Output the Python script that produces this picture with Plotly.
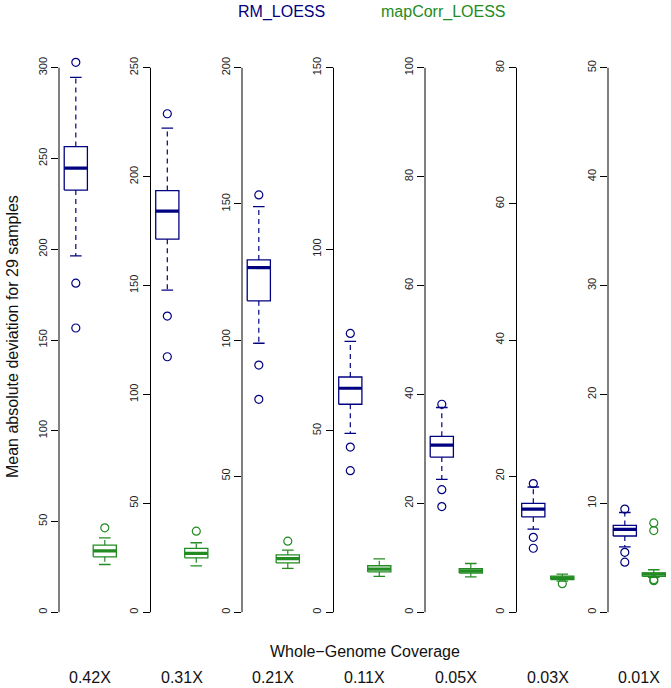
import plotly.graph_objects as go

# coverage levels, one panel each
coverage = ["0.42X", "0.31X", "0.21X", "0.11X", "0.05X", "0.03X", "0.01X"]
y_max = [300, 250, 200, 150, 100, 80, 50]
y_step = [50, 50, 50, 50, 20, 20, 10]

# RM_LOESS box stats (lower whisker, q1, median, q3, upper whisker) + outliers
rm_low = [196.3, 147.9, 98.8, 49.3, 24.4, 12.2, 6.0]
rm_q1 = [232.6, 171.3, 114.4, 57.3, 28.5, 14.0, 7.0]
rm_med = [244.7, 184.2, 126.6, 61.7, 30.7, 15.15, 7.6]
rm_q3 = [256.6, 193.6, 129.4, 64.8, 32.3, 16.0, 7.97]
rm_high = [294.7, 222.3, 149.0, 74.6, 37.6, 18.4, 9.16]
rm_out = [
    [303.0, 181.3, 156.6],
    [228.9, 136.0, 117.3],
    [153.3, 90.8, 78.2],
    [76.8, 45.5, 39.0],
    [38.2, 22.5, 19.4],
    [18.9, 11.0, 9.4],
    [9.47, 5.5, 4.6],
]

# mapCorr_LOESS box stats
mc_low = [26.3, 21.3, 16.1, 9.9, 6.5, 4.56, 3.2]
mc_q1 = [30.5, 25.0, 18.1, 11.1, 7.2, 4.8, 3.3]
mc_med = [33.8, 27.0, 19.7, 11.9, 7.6, 5.05, 3.5]
mc_q3 = [37.0, 29.3, 21.1, 12.8, 8.0, 5.3, 3.6]
mc_high = [41.0, 31.9, 22.8, 14.7, 8.95, 5.6, 3.9]
mc_out = [[46.5], [37.2], [26.1], [], [], [4.2], [8.2, 7.5, 3.0, 2.9]]

RM_COL = "#000080"
MC_COL = "#228B22"
FONT = "Liberation Sans"

W, H = 671, 688
fig = go.Figure()


def add_box(fig, pos, low, q1, med, q3, high, out, color, xa, ya):
    hw, cw = 0.4, 0.2
    fig.add_trace(go.Scatter(
        x=[pos - hw, pos + hw, pos + hw, pos - hw, pos - hw],
        y=[q1, q1, q3, q3, q1], mode="lines",
        line=dict(color=color, width=1.3), xaxis=xa, yaxis=ya, hoverinfo="skip"))
    fig.add_trace(go.Scatter(
        x=[pos - hw, pos + hw], y=[med, med], mode="lines",
        line=dict(color=color, width=3.2), xaxis=xa, yaxis=ya, hoverinfo="skip"))
    fig.add_trace(go.Scatter(
        x=[pos, pos, None, pos, pos], y=[q3, high, None, q1, low], mode="lines",
        line=dict(color=color, width=1.2, dash="5px,4px"), xaxis=xa, yaxis=ya,
        hoverinfo="skip"))
    fig.add_trace(go.Scatter(
        x=[pos - cw, pos + cw, None, pos - cw, pos + cw],
        y=[high, high, None, low, low], mode="lines",
        line=dict(color=color, width=1.3), xaxis=xa, yaxis=ya, hoverinfo="skip"))
    if out:
        fig.add_trace(go.Scatter(
            x=[pos] * len(out), y=out, mode="markers",
            marker=dict(symbol="circle-open", size=8, color=color,
                        line=dict(width=1.2, color=color)),
            xaxis=xa, yaxis=ya, hoverinfo="skip"))


def txt(text, x, y, size=16, color="#111", angle=0):
    return dict(text=text, xref="paper", yref="paper", x=x / W, y=1 - y / H,
                xanchor="center", yanchor="middle", textangle=angle,
                showarrow=False, font=dict(family=FONT, size=size, color=color))


y_dom = [(H - 634) / H, 1 - 46 / H]
panel_w = 62.6
annotations = []
shapes = []
for i in range(7):
    n = "" if i == 0 else str(i + 1)
    xa, ya = "x" + n, "y" + n
    left = 59 + i * 91.5
    dom = [left / W, min((left + panel_w) / W, 1.0)]
    M = y_max[i]
    add_box(fig, 1, rm_low[i], rm_q1[i], rm_med[i], rm_q3[i], rm_high[i],
            rm_out[i], RM_COL, xa, ya)
    add_box(fig, 2, mc_low[i], mc_q1[i], mc_med[i], mc_q3[i], mc_high[i],
            mc_out[i], MC_COL, xa, ya)
    fig.layout["xaxis" + n] = dict(domain=dom, range=[0.42, 2.58], visible=False,
                                   anchor=ya)
    fig.layout["yaxis" + n] = dict(
        domain=y_dom, range=[-0.04 * M, 1.04 * M], anchor=xa,
        tickvals=list(range(0, M + 1, y_step[i])), tickangle=-90,
        ticks="outside", ticklen=7, tickwidth=1, tickcolor="black",
        ticklabelstandoff=0,
        showline=False, showgrid=False, zeroline=False, automargin=False,
        tickfont=dict(family=FONT, size=11, color="#222"))
    shapes.append(dict(type="line", xref=xa + " domain", yref=ya,
                       x0=0, x1=0, y0=0, y1=M, line=dict(color="black", width=1)))
    annotations.append(txt(coverage[i], left + panel_w / 2, 677))

annotations += [
    txt("RM_LOESS", 281, 12, color=RM_COL),
    txt("mapCorr_LOESS", 444, 12, color=MC_COL),
    txt("Whole\u2212Genome Coverage", 365, 651),
    txt("Mean absolute deviation for 29 samples", 12, 337, angle=-90),
]

fig.update_layout(width=W, height=H, margin=dict(l=0, r=0, t=0, b=0),
                  plot_bgcolor="white", paper_bgcolor="white", showlegend=False,
                  annotations=annotations, shapes=shapes)
fig.write_html("out.html", config={"displayModeBar": False},
               post_script="document.body.style.margin='0';"
                           "document.body.style.overflow='hidden';")
